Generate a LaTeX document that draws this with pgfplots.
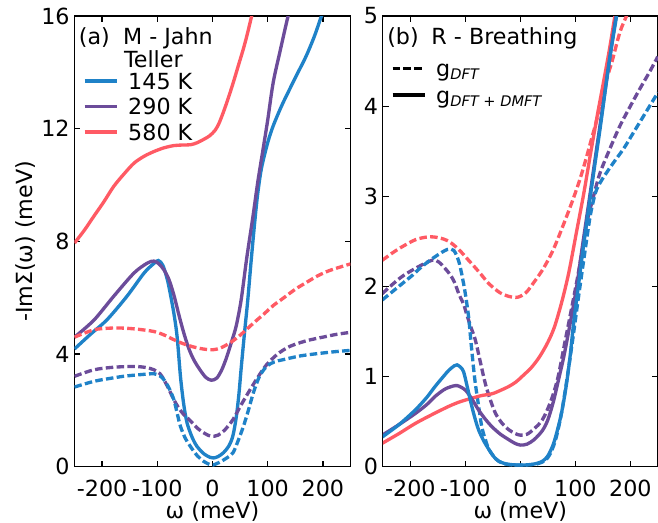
\documentclass[border=0pt]{standalone}
\usepackage{fontspec}
\setmainfont{DejaVu Sans}
\usepackage{pgfplots}
\pgfplotsset{compat=1.18}
\definecolor{cblue}{HTML}{1F82C8}
\definecolor{cpurple}{HTML}{6C4C9A}
\definecolor{cred}{HTML}{FF5A64}
\newcommand{\fs}{\fontsize{16}{19.2}\selectfont}
\newcommand{\sub}[1]{\raisebox{-2.5pt}{\fontsize{10.5}{12}\selectfont\itshape #1}}
\pgfplotsset{
 myaxis/.style={scale only axis, height=324.5pt, xmin=-250, xmax=250,
  xtick={-200,-100,0,100,200}, xticklabels={-200,-100,0,100,200},
  tick align=inside, major tick length=4.3pt,
  axis line style={line width=0.9pt},
  every tick/.style={black, line width=0.9pt},
  tick label style={font=\fs},
  xticklabel style={anchor=base, inner sep=0pt, yshift=-21.8pt},
  label style={font=\fs},
  xlabel={ω (meV)},
  xlabel style={at={(axis description cs:0.5,0)}, anchor=center, inner sep=0pt, yshift=-32.6pt},
  legend image code/.code={\draw[##1] (0pt,0pt) -- (23pt,0pt);},
  legend style={draw=none, fill=none, inner sep=0pt, outer sep=0pt, anchor=north west,
    font=\fs, column sep=7.2pt, nodes={inner sep=0pt, text height=11.66pt, text depth=0pt}},
  legend cell align=left},
 sl/.style={line width=2.4pt, smooth},
 dl/.style={line width=2.4pt, smooth, dash pattern=on 5.4pt off 2.4pt},
}
\begin{document}
\begin{tikzpicture}
\begin{axis}[myaxis, at={(0,0)}, anchor=south west, width=198.7pt,
  ymin=0, ymax=16, ytick={0,4,8,12,16}, yticklabels={0,4,8,12,16},
  ylabel={-ImΣ(ω) (meV)},
  ylabel style={at={(axis description cs:-0.176,0.5)}, anchor=center},
  legend style={at={(axis description cs:0.0307,0.8736)}, row sep=6.7pt}]
% 145 K solid
\addplot[sl, cblue] coordinates {(-250,4.18) (-220,4.72) (-191,5.22) (-155,6.05) (-125,6.85) (-110,7.15) (-98,7.32) (-90,7.15) (-84,6.8) (-79,6.4) (-70,5.45) (-64,4.6) (-58,3.2) (-52,2.2) (-46,1.55) (-37,1.05) (-28,0.72) (-15,0.45) (-4,0.33) (2,0.31) (10,0.36) (20,0.5) (30,0.75) (37,1.1) (43,1.75) (48,2.6) (52,3.5) (58,4.75) (64,5.93) (70,7.3) (76.6,8.7) (82,9.7) (88.8,10.6) (100,11.5) (110,12.1) (125,12.8) (140,13.41) (155,14.0) (170,14.59) (185,15.3) (197.5,16) (205,16.3)};
% 290 K solid
\addplot[sl, cpurple] coordinates {(-250,4.6) (-215,5.2) (-179,6.05) (-142,6.88) (-118,7.23) (-106,7.3) (-97,7.2) (-88,6.99) (-79,6.65) (-70,6.1) (-61,5.4) (-52,4.75) (-43,4.2) (-34,3.8) (-23,3.45) (-12,3.17) (-2,3.07) (8,3.15) (17,3.45) (25,3.85) (34,4.4) (43,5.0) (52,5.93) (62,7.4) (73.5,8.91) (82,10.1) (91.7,11.28) (100,12.3) (110,13.64) (123,14.8) (137,16) (145,16.5)};
% 580 K solid
\addplot[sl, cred] coordinates {(-250,7.94) (-232,8.4) (-215,8.89) (-197,9.4) (-179,9.95) (-160,10.4) (-142,10.78) (-124,11.02) (-106,11.19) (-88,11.32) (-70,11.40) (-55,11.42) (-40,11.43) (-28,11.5) (-16,11.62) (-5,11.75) (5,11.95) (12,12.2) (19.6,12.58) (28,13.05) (37.7,13.64) (47,14.25) (55.9,14.83) (63,15.35) (71,16.0) (78,16.5)};
% dashed
\addplot[dl, cred, forget plot] coordinates {(-250,4.6) (-215,4.86) (-185,4.92) (-161,4.92) (-135,4.88) (-106,4.80) (-88,4.68) (-70,4.51) (-52,4.36) (-34,4.25) (-17,4.18) (0,4.15) (15,4.22) (31,4.39) (46,4.6) (61,4.86) (76,5.13) (92,5.40) (110,5.72) (128,5.98) (150,6.3) (170,6.54) (190,6.77) (210,6.95) (230,7.08) (250,7.2)};
\addplot[dl, cpurple, forget plot] coordinates {(-250,3.21) (-215,3.44) (-180,3.53) (-142,3.56) (-120,3.52) (-106,3.44) (-95,3.3) (-88,3.09) (-79,2.75) (-70,2.38) (-61,2.08) (-52,1.85) (-41,1.65) (-28,1.38) (-14,1.18) (-2,1.08) (10,1.12) (22,1.3) (37,1.67) (52,2.2) (68,2.73) (83,3.2) (98,3.62) (118,4.0) (140,4.27) (170,4.47) (200,4.6) (225,4.7) (250,4.77)};
\addplot[dl, cblue, forget plot] coordinates {(-250,2.83) (-215,3.03) (-190,3.12) (-161,3.21) (-130,3.27) (-106,3.30) (-95,3.22) (-88,3.09) (-79,2.8) (-70,2.38) (-64,1.9) (-58,1.43) (-49,1.0) (-40,0.72) (-28,0.4) (-16,0.19) (-4,0.07) (1,0.06) (12,0.15) (25,0.3) (37,0.49) (46,0.9) (56,1.43) (65,2.0) (74,2.62) (85,3.2) (98,3.56) (112,3.72) (128,3.80) (158,3.93) (188,4.01) (220,4.08) (250,4.13)};
\legend{145 K, 290 K, 580 K}
\node[anchor=base west, inner sep=0pt, font=\fs, xshift=3pt, yshift=-20.2pt] at (rel axis cs:0,1) {(a)};
\node[anchor=base west, inner sep=0pt, font=\fs, xshift=34.8pt, yshift=-20.2pt] at (rel axis cs:0,1) {M - Jahn};
\node[anchor=base west, inner sep=0pt, font=\fs, xshift=35.5pt, yshift=-37.4pt] at (rel axis cs:0,1) {Teller};
\end{axis}
\begin{axis}[myaxis, at={(222pt,0)}, anchor=south west, width=198pt,
  ymin=0, ymax=5, ytick={0,1,2,3,4,5}, yticklabels={0,1,2,3,4,5},
  legend style={at={(axis description cs:0.0293,0.902)}, row sep=7.6pt}]
\addlegendimage{black, line width=2.4pt, dash pattern=on 5.4pt off 2.4pt}
\addlegendentry{g\sub{DFT}}
\addlegendimage{black, line width=2.4pt}
\addlegendentry{g\sub{DFT + DMFT}}
% dashed
\addplot[dl, cred, forget plot] coordinates {(-251,2.29) (-233,2.37) (-215,2.44) (-190,2.52) (-167,2.55) (-148,2.54) (-130,2.50) (-112,2.41) (-94,2.29) (-75,2.16) (-57,2.03) (-37,1.93) (-21,1.89) (-5,1.88) (10,1.93) (24,2.04) (42,2.2) (60,2.41) (78,2.68) (96,2.97) (110,3.22) (121,3.45) (130,3.65) (139,3.85) (151,4.19) (166,4.48) (181,4.82) (193,5.0) (200,5.1)};
\addplot[dl, cpurple, forget plot] coordinates {(-251,1.92) (-233,2.02) (-215,2.11) (-191,2.2) (-161,2.29) (-148,2.27) (-130,2.15) (-120,2.05) (-112,1.92) (-103,1.8) (-97,1.68) (-90,1.55) (-82,1.41) (-73,1.17) (-64,0.93) (-55,0.75) (-45,0.59) (-33,0.48) (-21,0.41) (-10,0.37) (0,0.35) (12,0.36) (25,0.42) (40,0.52) (55,0.72) (68,0.98) (80,1.35) (92,1.72) (104,2.1) (112,2.38) (121,2.71) (133,3.0) (145,3.26) (163,3.53) (181,3.78) (200,4.0) (218,4.2) (235,4.38) (250,4.55)};
\addplot[dl, cblue, forget plot] coordinates {(-251,1.85) (-233,1.94) (-215,2.03) (-197,2.12) (-179,2.22) (-155,2.33) (-133,2.41) (-121,2.40) (-112,2.28) (-106,2.12) (-100,1.92) (-94,1.66) (-90,1.4) (-86,1.15) (-82,0.93) (-76,0.68) (-70,0.44) (-63,0.29) (-57,0.19) (-45,0.09) (-33,0.04) (-15,0.02) (10,0.02) (30,0.03) (45,0.07) (55,0.15) (65,0.32) (75,0.6) (85,0.98) (95,1.4) (105,1.85) (118,2.41) (127,2.78) (134,2.98) (139,3.08) (150,3.2) (169,3.37) (188,3.53) (205,3.7) (228,3.93) (250,4.15)};
% solid
\addplot[sl, cred, forget plot] coordinates {(-251,0.26) (-220,0.37) (-191,0.48) (-160,0.58) (-130,0.67) (-110,0.72) (-88,0.76) (-70,0.79) (-51,0.81) (-35,0.85) (-21,0.89) (-8,0.94) (3,1.0) (20,1.1) (35,1.22) (50,1.38) (62,1.55) (75,1.82) (88,2.15) (102,2.6) (115,3.02) (127,3.45) (140,3.9) (151,4.26) (162,4.63) (172,5.0) (180,5.25)};
\addplot[sl, cpurple, forget plot] coordinates {(-251,0.35) (-220,0.47) (-191,0.59) (-170,0.69) (-155,0.78) (-140,0.85) (-130,0.88) (-115,0.9) (-100,0.85) (-88,0.75) (-76,0.63) (-64,0.53) (-51,0.44) (-36,0.36) (-21,0.30) (-10,0.26) (0,0.24) (12,0.25) (25,0.3) (40,0.4) (50,0.52) (60,0.72) (70,0.98) (80,1.25) (93,1.67) (103,2.02) (112,2.41) (125,2.95) (138,3.5) (150,4.0) (163,4.55) (174,5.0) (180,5.25)};
\addplot[sl, cblue, forget plot] coordinates {(-251,0.33) (-220,0.47) (-191,0.63) (-170,0.77) (-155,0.89) (-140,1.0) (-130,1.07) (-120,1.12) (-115,1.13) (-108,1.1) (-103,1.05) (-97,0.9) (-91,0.74) (-84,0.57) (-76,0.41) (-66,0.28) (-57,0.19) (-48,0.11) (-39,0.06) (-25,0.03) (-9,0.02) (10,0.02) (25,0.03) (40,0.06) (50,0.12) (60,0.25) (68,0.42) (75,0.6) (83,0.88) (90,1.2) (97,1.6) (105,1.98) (114,2.41) (125,2.9) (135,3.33) (145,3.75) (155,4.2) (163,4.55) (175,5.0) (180,5.2)};
\node[anchor=base west, inner sep=0pt, font=\fs, xshift=3pt, yshift=-20.2pt] at (rel axis cs:0,1) {(b)};
\node[anchor=base west, inner sep=0pt, font=\fs, xshift=34.8pt, yshift=-20.2pt] at (rel axis cs:0,1) {R - Breathing};
\end{axis}
\pgfresetboundingbox
\path (-53.64pt,-40.5pt) rectangle (420.12pt,336.04pt);
\end{tikzpicture}
\end{document}
